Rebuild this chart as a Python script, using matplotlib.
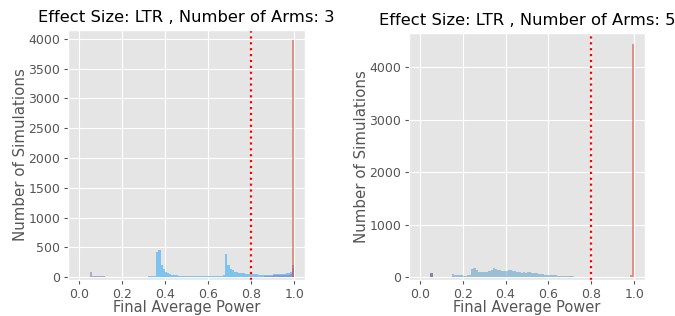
import numpy as np
import matplotlib
matplotlib.use("Agg")
import matplotlib.pyplot as plt

plt.style.use("ggplot")

bin_width = 0.01
titles = ["Effect Size: LTR , Number of Arms: 3", "Effect Size: LTR , Number of Arms: 5"]
x_label = "Final Average Power"
y_label = "Number of Simulations"
threshold = 0.8

# Left panel (3 arms): counts per 0.01 bin, 0.00 .. 0.99
left_blue = [0]*28 + [5, 5, 8, 8, 10, 10, 15, 20,
             420, 450, 200, 140, 80, 60, 50, 40, 35, 30, 25, 25, 20, 20,
             15, 15, 12, 12, 12, 10, 10, 10, 10, 12,
             12, 12, 15, 15, 15, 18, 20, 30,
             380, 200, 140, 110, 90, 80, 70, 65, 60, 55, 50, 50,
             45, 45, 45, 42, 42, 40, 40, 40, 40, 42,
             45, 45, 48, 50, 52, 55, 60, 70, 90, 150]
left_purple = [0]*5 + [90, 20, 15, 15, 12, 12, 10, 8] + [0]*73 + \
              [20, 22, 25, 25, 28, 30, 30, 32, 35, 35, 38, 40, 45, 200]
left_red = [0]*99 + [3980]

# Right panel (5 arms)
right_blue = [0]*15 + [60, 40, 35, 30, 30, 25, 25, 30, 35,
              150, 170, 130, 100, 95, 90, 90, 100, 110, 140, 170, 150,
              130, 125, 120, 115, 110, 130, 125, 120, 110, 95, 90, 85, 90, 85,
              95, 90, 85, 80, 75, 65, 55, 50, 45, 45,
              40, 35, 35, 30, 28, 25, 22, 20, 18, 15,
              12, 10, 8, 8, 6, 6, 5, 4, 3] + [0]*21
right_purple = [0]*5 + [80] + [0]*94
right_red = [0]*98 + [30, 4430]

bin_lefts = np.arange(100) * bin_width

W, H = 675, 316
fig = plt.figure(figsize=(W/100, H/100), dpi=100)
ax1 = fig.add_axes([68/W, (H-280)/H, 237/W, 250/H])
ax2 = fig.add_axes([409/W, (H-280)/H, 236/W, 247/H])

def draw(ax, blue, purple, red, blue_color, blue_alpha, purple_color, purple_alpha, title):
    ax.bar(bin_lefts, blue, width=bin_width, align="edge", color=blue_color, alpha=blue_alpha, linewidth=0)
    ax.bar(bin_lefts, purple, width=bin_width, align="edge", color=purple_color, alpha=purple_alpha, linewidth=0)
    ax.bar(bin_lefts, red, width=bin_width, align="edge", color="#E24A33", alpha=0.55, linewidth=0)
    ax.axvline(threshold, color="red", linestyle=":", linewidth=1.6)
    ax.set_xlim(-0.05, 1.05)
    ax.set_xticks([0.0, 0.2, 0.4, 0.6, 0.8, 1.0])
    ax.set_title(title, fontsize=11.8)
    ax.set_xlabel(x_label, fontsize=10.5, labelpad=-0.5)
    ax.set_ylabel(y_label, fontsize=10.8, labelpad=0)
    ax.tick_params(labelsize=9, pad=2.5, length=3)

draw(ax1, left_blue, left_purple, left_red, "#6CBDEE", 0.85, "#8A80C0", 0.6, titles[0])
ax1.set_yticks([0, 500, 1000, 1500, 2000, 2500, 3000, 3500, 4000])
ax1.set_ylim(-50, 4151)
draw(ax2, right_blue, right_purple, right_red, "#348ABD", 0.42, "#6F6F8F", 0.8, titles[1])
ax2.set_yticks([0, 1000, 2000, 3000, 4000])
ax2.set_ylim(-57, 4648)

fig.savefig("out.png", dpi=100)
